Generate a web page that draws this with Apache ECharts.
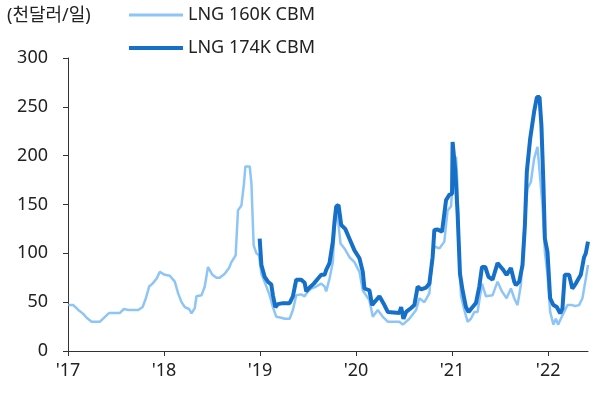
<!DOCTYPE html>
<html><head><meta charset="utf-8">
<script src="https://cdn.jsdelivr.net/npm/echarts@6/dist/echarts.min.js"></script>
<style>html,body{margin:0;padding:0;background:#fff}#c{width:597px;height:394px}</style>
</head><body><div id="c"></div>
<script>
// time in years since 2017 (decimal), values in 천달러/일
const t160 = [0.003,0.055,0.107,0.159,0.194,0.246,0.333,0.385,0.429,0.541,0.582,0.627,0.731,0.777,0.811,0.845,0.880,0.922,0.956,0.974,
1.008,1.060,1.112,1.147,1.182,1.216,1.261,1.286,1.320,1.338,1.390,1.424,1.458,1.476,1.504,1.546,1.580,1.632,1.677,1.702,1.746,1.760,1.770,1.806,1.833,1.847,1.892,1.910,1.933,1.962,1.989,
2.014,2.066,2.100,2.134,2.169,2.221,2.256,2.308,2.342,2.377,2.429,2.464,2.498,2.533,2.585,2.637,2.672,2.689,2.723,2.758,2.775,2.799,2.817,2.838,2.879,2.931,2.983,
3.035,3.070,3.139,3.174,3.226,3.278,3.330,3.451,3.486,3.555,3.625,3.659,3.711,3.763,3.794,3.815,3.867,3.919,3.953,3.989,
4.012,4.041,4.054,4.075,4.093,4.127,4.161,4.196,4.231,4.265,4.311,4.352,4.421,4.473,4.519,4.567,4.612,4.647,4.681,4.716,4.758,4.785,4.820,4.854,4.889,4.906,4.941,4.966,4.993,
5.021,5.055,5.080,5.104,5.132,5.166,5.201,5.252,5.280,5.322,5.357,5.392,5.415];
const v160 = [47,47,42,38,34,30,30,35,39,39,43,42,42,45,54,66,69,74,81,82,
78,77,71,59,50,45,43,38.5,44,56,57,66,86,85,78,75,75,79,85,91,98,100,144,149,172,189,189,172,108.5,100,98,
79,66,57,45,35,34,33,33,42,57,58,56,61,64,66,69,66,61,74,91,125,146,144,110,105,96,91,
81,62,52,35,42,35,30,30,27,33,42,54,50,59,95,107,105,112,144,148,
185,199,173,90,56,42,30,33,40,40,69,56,57,71,61,54,64,54,47,67.5,136,166.5,173,197,209,209,149,101.6,78,
40,27,33,27,33,40,47,47,46,47,54,74,88];
const t174 = [1.996,
2.014,2.048,2.082,2.117,2.134,2.159,2.186,2.238,2.308,2.342,2.377,2.429,2.464,2.481,2.516,2.560,2.602,2.637,2.672,2.689,2.723,2.758,2.775,2.793,2.817,2.845,2.887,2.931,2.983,
3.035,3.070,3.087,3.139,3.167,3.243,3.295,3.330,3.451,3.469,3.493,3.521,3.573,3.607,3.641,3.677,3.729,3.763,3.797,3.815,3.849,3.895,3.937,3.971,3.999,
4.005,4.033,4.057,4.082,4.109,4.144,4.172,4.213,4.248,4.283,4.311,4.345,4.379,4.421,4.473,4.525,4.567,4.612,4.647,4.664,4.699,4.733,4.758,4.778,4.813,4.854,4.883,4.910,4.930,4.951,4.966,4.993,
5.021,5.055,5.090,5.125,5.149,5.173,5.218,5.252,5.288,5.340,5.374,5.392,5.415];
const v174 = [115,
88,76,71,68,57,45,48,49,49,56,73,73,70,61,65,69,74,78,78,83,90,112,132,148,149.5,129,125,115,103,
95,81,64,62,47,56,47,40,39,45,33,40,44,47,66,63,65,69,96,124,124.5,122,154.5,160,161,
214,185,141,79,62,45,40,45,49,66,86,86,76,73,90,84,78,85,71,67.5,71,88,129,183.5,217.6,245,260,260,231,170,115,101.6,
54,47,45,38.5,43.5,78,78,64,69,78,96,100,112];
const yearLabels = ["'17","'18","'19","'20","'21","'22"];
const seriesNames = ['LNG 160K CBM','LNG 174K CBM'];
const unitLabel = '(천달러/일)';

const FONT = '"Noto Sans", "Noto Sans CJK KR", sans-serif';
const chart = echarts.init(document.getElementById('c'), null, {renderer:'canvas'});
const pair = (t, v) => t.map((x, i) => [2017 + x, v[i]]);
const legendText = {fontFamily:FONT, fontSize:18, color:'#222'};
chart.setOption({
  animation:false,
  textStyle:{fontFamily:FONT},
  title:{text:unitLabel, left:7, top:7, padding:0, textStyle:{fontFamily:FONT, fontSize:18, fontWeight:'normal', color:'#222'}},
  legend:[
    {data:[{name:seriesNames[0], icon:'rect'}], left:129, top:6, padding:0, itemWidth:54, itemHeight:3, textStyle:legendText},
    {data:[{name:seriesNames[1], icon:'rect'}], left:129, top:39, padding:0, itemWidth:54, itemHeight:4, textStyle:legendText}
  ],
  grid:{left:68, right:9, top:58, bottom:43, containLabel:false},
  xAxis:{type:'value', min:2017, max:2022.415, interval:1,
    axisLine:{lineStyle:{color:'#333', width:1}},
    axisTick:{show:true, length:5, inside:false, lineStyle:{color:'#333'}},
    splitLine:{show:false},
    axisLabel:{fontFamily:FONT, fontSize:18, color:'#222', margin:11, showMaxLabel:false,
      formatter:v => { const i = Math.round(v) - 2017; return (Math.abs(v - Math.round(v)) < 1e-6 && yearLabels[i]) ? yearLabels[i] : ''; }}},
  yAxis:{type:'value', min:0, max:300, interval:50,
    axisLine:{show:true, lineStyle:{color:'#333', width:1}},
    axisTick:{show:true, length:5, inside:false, lineStyle:{color:'#333'}},
    splitLine:{show:false},
    axisLabel:{fontFamily:FONT, fontSize:18, color:'#222', margin:20}},
  series:[
    {name:seriesNames[0], type:'line', data:pair(t160, v160), symbol:'none', showSymbol:false,
     lineStyle:{color:'#8ec5f7', width:2.5}, itemStyle:{color:'#8ec5f7'}, z:2},
    {name:seriesNames[1], type:'line', data:pair(t174, v174), symbol:'none', showSymbol:false,
     lineStyle:{color:'#1670c8', width:4}, itemStyle:{color:'#1670c8'}, z:3}
  ]
});
</script></body></html>
